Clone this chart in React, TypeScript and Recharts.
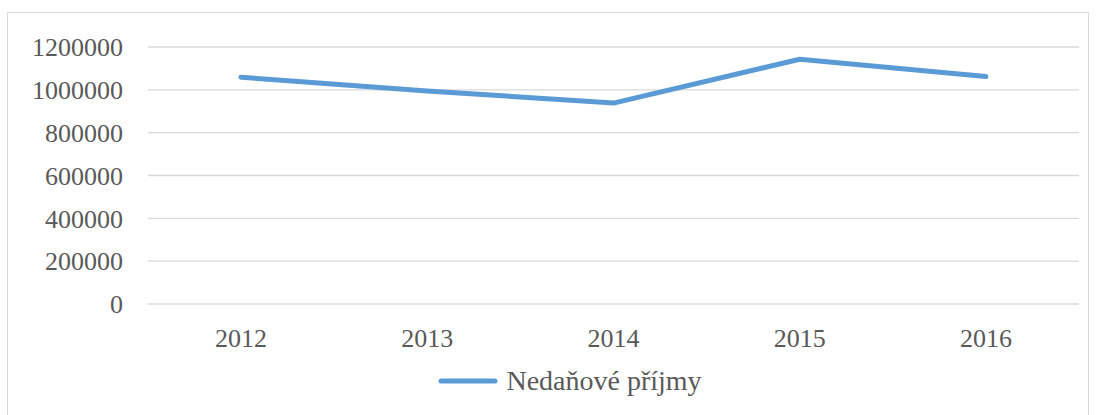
import { LineChart, Line, XAxis, YAxis, CartesianGrid, Legend } from "recharts"

const years = ["2012", "2013", "2014", "2015", "2016"]
const nedanovePrijmy = [1059000, 995000, 938000, 1143000, 1062000]
const yTicks = [0, 200000, 400000, 600000, 800000, 1000000, 1200000]

const seriesName = "Nedaňové příjmy"
const lineColor = "#5B9BD5"
const textColor = "#595959"
const font = "'Times New Roman', 'Liberation Serif', serif"

const chartData = years.map((year, i) => ({ year, value: nedanovePrijmy[i] }))

function LegendContent() {
  return (
    <div style={{ display: "flex", justifyContent: "center", alignItems: "center", fontFamily: font, paddingLeft: 42 }}>
      <svg width={60} height={10} style={{ marginRight: 8 }}>
        <line x1={3} y1={5} x2={57} y2={5} stroke={lineColor} strokeWidth={5} strokeLinecap="round" />
      </svg>
      <span style={{ color: textColor, fontSize: 28 }}>{seriesName}</span>
    </div>
  )
}

export default function App() {
  return (
    <div style={{ position: "absolute", left: 0, top: 0, width: 1098, height: 415, background: "#fff" }}>
      <div
        style={{
          position: "absolute",
          left: 7,
          top: 12,
          width: 1082,
          height: 420,
          border: "1px solid #d9d9d9",
          boxSizing: "border-box",
        }}
      />
      <LineChart
        width={1098}
        height={415}
        data={chartData}
        margin={{ top: 47, right: 19, bottom: 19, left: 0 }}
        style={{ position: "absolute", left: 0, top: 0 }}
      >
        <CartesianGrid vertical={false} stroke="#d9d9d9" strokeWidth={1.3} />
        <XAxis
          dataKey="year"
          axisLine={false}
          tickLine={false}
          height={60}
          tickMargin={19}
          padding={{ left: 93, right: 93 }}
          tick={{ fill: textColor, fontSize: 26, fontFamily: font }}
        />
        <YAxis
          width={148}
          domain={[0, 1200000]}
          ticks={yTicks}
          axisLine={false}
          tickLine={false}
          tickMargin={19}
          interval={0}
          tick={{ fill: textColor, fontSize: 26, fontFamily: font }}
        />
        <Legend
          verticalAlign="bottom"
          wrapperStyle={{ position: "absolute", left: 0, top: 365, width: 1098 }}
          content={() => <LegendContent />}
        />
        <Line
          type="linear"
          dataKey="value"
          name={seriesName}
          stroke={lineColor}
          strokeWidth={5}
          strokeLinecap="round"
          strokeLinejoin="round"
          dot={false}
          isAnimationActive={false}
        />
      </LineChart>
    </div>
  )
}
